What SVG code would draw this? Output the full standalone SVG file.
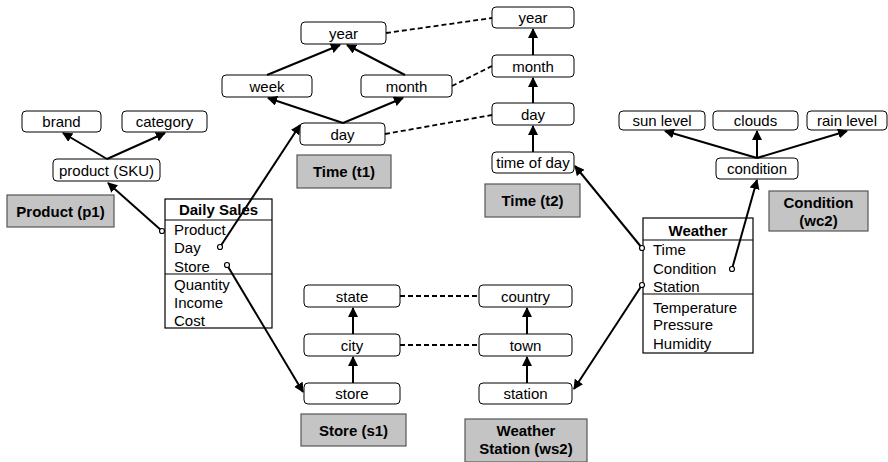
<svg xmlns="http://www.w3.org/2000/svg" width="888" height="462" viewBox="0 0 888 462">
  <style>
    text { font-family: "Liberation Sans", Arial, sans-serif; fill: #000; }
    .lvl rect { fill: #fff; stroke: #000; stroke-width: 1; }
    .lvl text { font-size: 15px; text-anchor: middle; }
    .dim rect { fill: #c4c4c4; stroke: #555; stroke-width: 1.2; }
    .dim text { font-size: 15px; font-weight: bold; text-anchor: middle; }
    .fact rect, .fact line { fill: #fff; stroke: #000; stroke-width: 1.2; }
    .fact text { font-size: 15px; }
    .fact .title { font-weight: bold; text-anchor: middle; }
    .arr { stroke: #000; stroke-width: 2; fill: none; marker-end: url(#head); }
    .dash { stroke: #000; stroke-width: 1.8; fill: none; stroke-dasharray: 5 3; }
    .port { fill: #fff; stroke: #000; stroke-width: 1.2; }
  </style>
  <defs>
    <marker id="head" viewBox="0 0 10 10" refX="9" refY="5" markerWidth="5" markerHeight="5" orient="auto" markerUnits="strokeWidth">
      <path d="M0,0 L10,5 L0,10 z" fill="#000"/>
    </marker>
  </defs>
  <rect width="888" height="462" fill="#fff"/>

  <!-- Product dimension -->
  <g id="brand" class="lvl"><rect x="22" y="111" width="79" height="21" rx="4"/><text x="61.5" y="127">brand</text></g>
  <g id="category" class="lvl"><rect x="122" y="111" width="85" height="21" rx="4"/><text x="164.5" y="127">category</text></g>
  <g id="product-sku" class="lvl"><rect x="53" y="159" width="107" height="22" rx="4"/><text x="106.5" y="175.5">product (SKU)</text></g>
  <g id="product-p1" class="dim"><rect x="7" y="195" width="107" height="32"/><text x="60.5" y="216.5">Product (p1)</text></g>

  <!-- Time dimension t1 -->
  <g id="t1-year" class="lvl"><rect x="301" y="22" width="85" height="22" rx="4"/><text x="343.5" y="38.5">year</text></g>
  <g id="t1-week" class="lvl"><rect x="222" y="75" width="90" height="22" rx="4"/><text x="267" y="91.5">week</text></g>
  <g id="t1-month" class="lvl"><rect x="361" y="75" width="91" height="22" rx="4"/><text x="406.5" y="91.5">month</text></g>
  <g id="t1-day" class="lvl"><rect x="300" y="123" width="85" height="22" rx="4"/><text x="342.5" y="139.5">day</text></g>
  <g id="time-t1" class="dim"><rect x="297" y="155" width="94" height="33"/><text x="344" y="177">Time (t1)</text></g>

  <!-- Time dimension t2 -->
  <g id="t2-year" class="lvl"><rect x="492" y="7" width="82" height="21" rx="4"/><text x="533" y="23">year</text></g>
  <g id="t2-month" class="lvl"><rect x="492" y="55" width="82" height="22" rx="4"/><text x="533" y="71.5">month</text></g>
  <g id="t2-day" class="lvl"><rect x="492" y="103" width="82" height="22" rx="4"/><text x="533" y="119.5">day</text></g>
  <g id="t2-timeofday" class="lvl"><rect x="492" y="152" width="82" height="21" rx="4"/><text x="533" y="168">time of day</text></g>
  <g id="time-t2" class="dim"><rect x="485" y="184" width="95" height="33"/><text x="532.5" y="206">Time (t2)</text></g>

  <!-- Condition dimension -->
  <g id="sun-level" class="lvl"><rect x="619" y="111" width="86" height="19" rx="4"/><text x="662" y="126">sun level</text></g>
  <g id="clouds" class="lvl"><rect x="713" y="111" width="85" height="19" rx="4"/><text x="755.5" y="126">clouds</text></g>
  <g id="rain-level" class="lvl"><rect x="807" y="111" width="80" height="19" rx="4"/><text x="847" y="126">rain level</text></g>
  <g id="condition" class="lvl"><rect x="716" y="158" width="82" height="21" rx="4"/><text x="757" y="174">condition</text></g>
  <g id="condition-wc2" class="dim"><rect x="769" y="191" width="99" height="40"/><text x="818.5" y="208">Condition</text><text x="818.5" y="226">(wc2)</text></g>

  <!-- Store dimension -->
  <g id="state" class="lvl"><rect x="304" y="285" width="96" height="22" rx="4"/><text x="352" y="301.5">state</text></g>
  <g id="city" class="lvl"><rect x="304" y="334" width="96" height="22" rx="4"/><text x="352" y="350.5">city</text></g>
  <g id="store" class="lvl"><rect x="304" y="383" width="96" height="21" rx="4"/><text x="352" y="399">store</text></g>
  <g id="store-s1" class="dim"><rect x="301" y="414" width="105" height="32"/><text x="353.5" y="435.5">Store (s1)</text></g>

  <!-- Weather station dimension -->
  <g id="country" class="lvl"><rect x="479" y="285" width="93" height="22" rx="4"/><text x="525.5" y="301.5">country</text></g>
  <g id="town" class="lvl"><rect x="479" y="334" width="93" height="22" rx="4"/><text x="525.5" y="350.5">town</text></g>
  <g id="station" class="lvl"><rect x="479" y="383" width="93" height="21" rx="4"/><text x="525.5" y="399">station</text></g>
  <g id="weather-station-ws2" class="dim"><rect x="465" y="419" width="122" height="43"/><text x="526" y="436">Weather</text><text x="526" y="454">Station (ws2)</text></g>

  <!-- Facts -->
  <g id="daily-sales" class="fact">
    <rect x="165" y="199" width="107" height="129"/>
    <line x1="165" y1="220" x2="272" y2="220"/>
    <line x1="165" y1="274" x2="272" y2="274"/>
    <text class="title" x="218.5" y="215">Daily Sales</text>
    <text x="174" y="234.5">Product</text>
    <text x="174" y="253">Day</text>
    <text x="174" y="271.5">Store</text>
    <text x="174" y="289.5">Quantity</text>
    <text x="174" y="307.5">Income</text>
    <text x="174" y="325.5">Cost</text>
  </g>
  <g id="weather" class="fact">
    <rect x="643" y="218" width="110" height="135"/>
    <line x1="643" y1="240" x2="753" y2="240"/>
    <line x1="643" y1="294" x2="753" y2="294"/>
    <text class="title" x="698" y="236">Weather</text>
    <text x="653" y="255">Time</text>
    <text x="653" y="273.5">Condition</text>
    <text x="653" y="291.5">Station</text>
    <text x="653" y="312.5">Temperature</text>
    <text x="653" y="330">Pressure</text>
    <text x="653" y="348.5">Humidity</text>
  </g>

  <g id="connectors">
    <!-- roll-up arrows -->
    <line class="arr" x1="107" y1="159" x2="63" y2="133"/>
    <line class="arr" x1="107" y1="159" x2="165" y2="133"/>
    <line class="arr" x1="343" y1="123" x2="268" y2="98"/>
    <line class="arr" x1="343" y1="123" x2="403" y2="98"/>
    <line class="arr" x1="267" y1="75" x2="340" y2="45"/>
    <line class="arr" x1="405" y1="75" x2="347" y2="45"/>
    <line class="arr" x1="533" y1="152" x2="533" y2="126"/>
    <line class="arr" x1="533" y1="103" x2="533" y2="78"/>
    <line class="arr" x1="533" y1="55" x2="533" y2="29"/>
    <line class="arr" x1="757" y1="158" x2="665" y2="131"/>
    <line class="arr" x1="757" y1="158" x2="757" y2="131"/>
    <line class="arr" x1="757" y1="158" x2="847" y2="131"/>
    <line class="arr" x1="353" y1="383" x2="353" y2="357"/>
    <line class="arr" x1="353" y1="334" x2="353" y2="308"/>
    <line class="arr" x1="527" y1="383" x2="527" y2="357"/>
    <line class="arr" x1="527" y1="334" x2="527" y2="308"/>
    <!-- foreign-key arrows -->
    <line class="arr" x1="162" y1="231" x2="108" y2="183"/>
    <line class="arr" x1="220" y1="247" x2="300" y2="125"/>
    <line class="arr" x1="227" y1="265" x2="303" y2="392"/>
    <line class="arr" x1="642" y1="248" x2="575" y2="166"/>
    <line class="arr" x1="732" y1="269" x2="757" y2="180"/>
    <line class="arr" x1="642" y1="285" x2="574" y2="389"/>
    <circle class="port" cx="162" cy="231" r="2.5"/>
    <circle class="port" cx="220" cy="247" r="2.5"/>
    <circle class="port" cx="227" cy="265" r="2.5"/>
    <circle class="port" cx="642" cy="248" r="2.5"/>
    <circle class="port" cx="732" cy="269" r="2.5"/>
    <circle class="port" cx="642" cy="285" r="2.5"/>
    <!-- level correspondences -->
    <line class="dash" x1="386" y1="33" x2="492" y2="18"/>
    <line class="dash" x1="452" y1="86" x2="492" y2="66"/>
    <line class="dash" x1="385" y1="134" x2="492" y2="115"/>
    <line class="dash" x1="400" y1="296" x2="479" y2="296"/>
    <line class="dash" x1="400" y1="345" x2="479" y2="345"/>
  </g>
</svg>
